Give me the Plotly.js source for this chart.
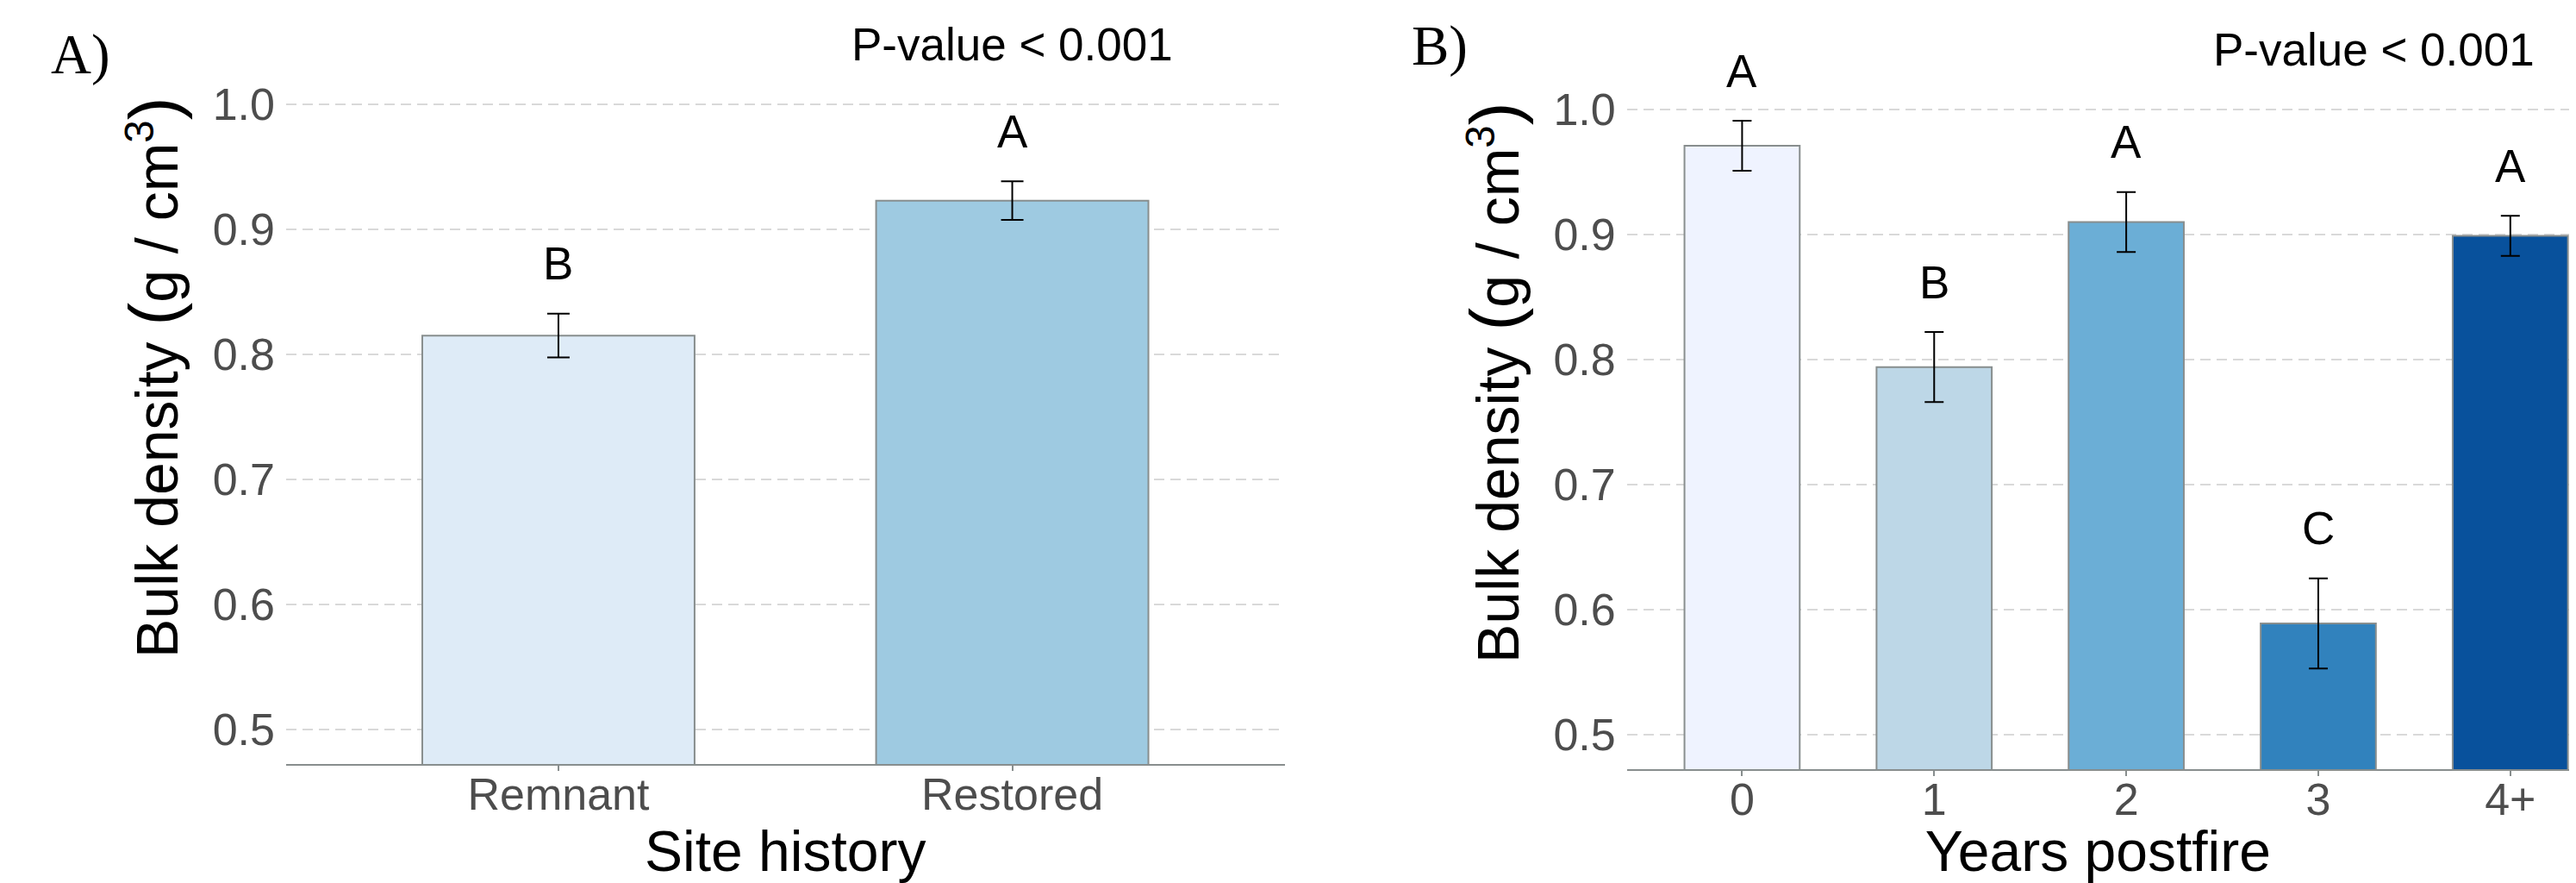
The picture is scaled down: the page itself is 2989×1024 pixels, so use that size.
<!DOCTYPE html>
<html>
<head>
<meta charset="utf-8">
<script src="https://cdn.plot.ly/plotly-3.0.1.min.js"></script>
<style>html,body{margin:0;padding:0;background:#fff;}#chart{width:2989px;height:1024px;}</style>
</head>
<body>
<div id="chart"></div>
<script>
// Panel A data
const siteHistory = ["Remnant", "Restored"];
const densityA = [0.815, 0.923];
const seA = [0.0175, 0.0155];
const lettersA = ["B", "A"];
const colorsA = ["#deebf7", "#9ecae1"];

// Panel B data
const yearsPostfire = ["0", "1", "2", "3", "4+"];
const densityB = [0.971, 0.794, 0.910, 0.589, 0.899];
const seB = [0.020, 0.028, 0.024, 0.036, 0.016];
const lettersB = ["A", "B", "A", "C", "A"];
const colorsB = ["#eff3ff", "#bdd7e7", "#6baed6", "#3182bd", "#08519c"];

const yTicks = [0.5, 0.6, 0.7, 0.8, 0.9, 1.0];
const yTickText = ["0.5", "0.6", "0.7", "0.8", "0.9", "1.0"];
const pText = "P-value < 0.001";

const SANS = "Liberation Sans, Arial, Helvetica, sans-serif";
const SERIF = "Liberation Serif, Times New Roman, serif";
const W = 2989, H = 1024;
const edge = "#888e8e";
const yRange = [0.4725, 1.0775];
const letterOffset = 0.04;

const traces = [
  {
    type: "bar", x: siteHistory, y: densityA, xaxis: "x", yaxis: "y",
    width: 0.6,
    marker: {color: colorsA, line: {color: edge, width: 2}},
    error_y: {type: "data", array: seA, visible: true, color: "#000", thickness: 2, width: 13},
    hoverinfo: "none", showlegend: false
  },
  {
    type: "bar", x: yearsPostfire, y: densityB, xaxis: "x2", yaxis: "y2",
    width: 0.6,
    marker: {color: colorsB, line: {color: edge, width: 2}},
    error_y: {type: "data", array: seB, visible: true, color: "#000", thickness: 2, width: 11},
    hoverinfo: "none", showlegend: false
  }
];

const yTitle = '&nbsp;Bulk density <span style="font-size:80px">(</span>g / cm<sup>3</sup><span style="font-size:80px">)</span>';

function xAxis(domain, range, title) {
  return {
    domain: domain, range: range, type: "category",
    showline: true, linecolor: edge, linewidth: 2,
    ticks: "outside", ticklen: 6, tickwidth: 2, tickcolor: edge,
    tickfont: {family: SANS, size: 52, color: "#4d4d4d"},
    ticklabelstandoff: -17,
    showgrid: false, zeroline: false,
    title: {text: title, font: {family: SANS, size: 66, color: "#000"}, standoff: 32},
    automargin: false, fixedrange: true
  };
}
function yAxis(domain, anchor) {
  return {
    domain: domain, range: yRange, anchor: anchor,
    tickvals: yTicks, ticktext: yTickText,
    tickfont: {family: SANS, size: 52, color: "#4d4d4d"},
    ticks: "", showline: false, zeroline: false,
    ticklabelstandoff: 12,
    showgrid: true, gridcolor: "#d9d9d9", gridwidth: 2, griddash: "12px,7px",
    title: {text: yTitle, font: {family: SANS, size: 68, color: "#000"}, standoff: 17},
    automargin: false, fixedrange: true
  };
}

const annotations = [];
siteHistory.forEach((c, i) => {
  annotations.push({xref: "x", yref: "y", x: i, y: densityA[i] + seA[i] + letterOffset,
    text: lettersA[i], showarrow: false, xanchor: "center", yanchor: "middle",
    font: {family: SANS, size: 53, color: "#000"}});
});
yearsPostfire.forEach((c, i) => {
  annotations.push({xref: "x2", yref: "y2", x: i, y: densityB[i] + seB[i] + letterOffset,
    text: lettersB[i], showarrow: false, xanchor: "center", yanchor: "middle",
    font: {family: SANS, size: 53, color: "#000"}});
});
annotations.push({xref: "x", yref: "y", x: 1, y: 1.048, text: pText, showarrow: false,
  xanchor: "center", yanchor: "middle", font: {family: SANS, size: 53, color: "#000"}});
annotations.push({xref: "x2", yref: "y2", x: 3.29, y: 1.048, text: pText, showarrow: false,
  xanchor: "center", yanchor: "middle", font: {family: SANS, size: 53, color: "#000"}});
annotations.push({xref: "paper", yref: "paper", x: 57 / W, y: 1 - 63 / H, text: "A)", showarrow: false,
  xanchor: "left", yanchor: "middle", font: {family: SERIF, size: 65, color: "#000"}});
annotations.push({xref: "paper", yref: "paper", x: 1636 / W, y: 1 - 53 / H, text: "B)", showarrow: false,
  xanchor: "left", yanchor: "middle", font: {family: SERIF, size: 65, color: "#000"}});

const layout = {
  width: W, height: H,
  margin: {l: 0, r: 0, t: 0, b: 0, pad: 0},
  paper_bgcolor: "#fff", plot_bgcolor: "#fff",
  font: {family: SANS},
  showlegend: false,
  bargap: 0.4,
  xaxis: xAxis([332 / W, 1490.5 / W], [-0.6, 1.6], "Site history"),
  yaxis: yAxis([1 - 885.9 / H, 1 - 8.6 / H], "x"),
  xaxis2: Object.assign(xAxis([1887.7 / W, 2981 / W], [-0.6, 4.306], "Years postfire"), {anchor: "y2"}),
  yaxis2: yAxis([1 - 891.9 / H, 1 - 14.6 / H], "x2"),
  annotations: annotations
};
layout.xaxis.anchor = "y";

Plotly.newPlot("chart", traces, layout, {staticPlot: true, displayModeBar: false});
</script>
</body>
</html>
